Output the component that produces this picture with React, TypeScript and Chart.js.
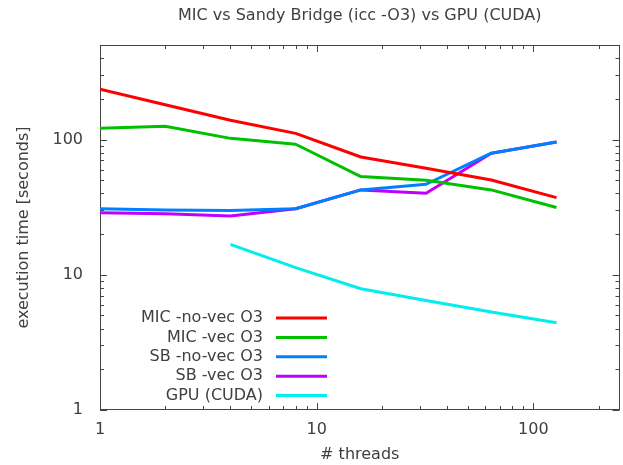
import React, { useEffect, useRef } from "react";
import { Chart, registerables } from "chart.js";

Chart.register(...registerables);

// ---- data ----
const threads = [1, 2, 4, 8, 16, 32, 64, 128];
const gpuThreads = [4, 8, 16, 32, 64, 128];
const micNoVec = [236, 181, 139, 111, 74.3, 61.3, 50.2, 37.2];
const micVec = [121, 125.5, 102, 92.3, 53.2, 50, 42.4, 31.4];
const sbNoVec = [30.8, 30.1, 29.9, 30.8, 42.4, 46.7, 79.2, 96];
const sbVec = [28.8, 28.2, 27.2, 30.8, 42.4, 40, 79.2, 96];
const gpuCuda = [16.8, 11.3, 7.88, 6.45, 5.3, 4.41];

const seriesLabels = [
  "MIC -no-vec O3",
  "MIC -vec O3",
  "SB -no-vec O3",
  "SB -vec O3",
  "GPU (CUDA)",
];
const seriesColors = ["#ff0000", "#00c000", "#0080ff", "#c000ff", "#00eeee"];

const majorTicks = [1, 10, 100];
const xRange = [1, 250];
const yRange = [1, 500];

const chartTitle = "MIC vs Sandy Bridge (icc -O3) vs GPU (CUDA)";
const xTitle = "# threads";
const yTitle = "execution time [seconds]";

const FONT = "DejaVu Sans";
const TEXT = "#404040";

function minorValues(min: number, max: number): number[] {
  const out: number[] = [];
  for (let d = 1; d <= max; d *= 10) {
    for (let m = 1; m <= 9; m++) {
      const v = m * d;
      if (v >= min && v <= max) out.push(v);
    }
  }
  return out;
}

const framePlugin = {
  id: "frameTicks",
  beforeDatasetsDraw(chart: any) {
    const { ctx, chartArea, scales } = chart;
    const { left, right, top, bottom } = chartArea;
    ctx.save();
    ctx.strokeStyle = "#444444";
    ctx.lineWidth = 1;
    ctx.beginPath();
    const sx = (v: number) => Math.round(scales.x.getPixelForValue(v)) + 0.5;
    const sy = (v: number) => Math.round(scales.y.getPixelForValue(v)) + 0.5;
    minorValues(xRange[0], xRange[1]).forEach((v) => {
      const len = majorTicks.includes(v) ? 7 : 4;
      const px = sx(v);
      ctx.moveTo(px, bottom);
      ctx.lineTo(px, bottom - len);
      ctx.moveTo(px, top);
      ctx.lineTo(px, top + len);
    });
    minorValues(yRange[0], yRange[1]).forEach((v) => {
      const len = majorTicks.includes(v) ? 7 : 4;
      const py = sy(v);
      ctx.moveTo(left, py);
      ctx.lineTo(left + len, py);
      ctx.moveTo(right, py);
      ctx.lineTo(right - len, py);
    });
    ctx.stroke();
    ctx.strokeRect(
      Math.round(left) + 0.5,
      Math.round(top) + 0.5,
      Math.round(right - left) - 1,
      Math.round(bottom - top) - 1
    );
    ctx.restore();
  },
  afterDraw(chart: any) {
    const { ctx, chartArea } = chart;
    ctx.save();
    ctx.fillStyle = TEXT;
    ctx.font = `16px "${FONT}"`;
    ctx.textAlign = "center";
    ctx.textBaseline = "middle";
    ctx.fillText(chartTitle, (chartArea.left + chartArea.right) / 2, 16);

    ctx.textAlign = "right";
    chart.data.datasets.forEach((ds: any, i: number) => {
      const y = chartArea.top + 273 + i * 19.4;
      ctx.fillStyle = TEXT;
      ctx.fillText(ds.label, chartArea.left + 163, y);
      ctx.strokeStyle = ds.borderColor;
      ctx.lineWidth = 3;
      ctx.beginPath();
      ctx.moveTo(chartArea.left + 176, y);
      ctx.lineTo(chartArea.left + 227, y);
      ctx.stroke();
    });
    ctx.restore();
  },
};

function toPoints(xs: number[], ys: number[]) {
  return xs.map((x, i) => ({ x, y: ys[i] }));
}

export default function App() {
  const ref = useRef<HTMLCanvasElement | null>(null);

  useEffect(() => {
    document.body.style.margin = "0";
    const canvas = ref.current;
    if (!canvas) return;
    const series = [
      toPoints(threads, micNoVec),
      toPoints(threads, micVec),
      toPoints(threads, sbNoVec),
      toPoints(threads, sbVec),
      toPoints(gpuThreads, gpuCuda),
    ];
    const chart = new Chart(canvas, {
      type: "line",
      data: {
        datasets: series.map((data, i) => ({
          label: seriesLabels[i],
          data,
          borderColor: seriesColors[i],
          backgroundColor: seriesColors[i],
          borderWidth: 3,
          pointRadius: 0,
          tension: 0,
          fill: false,
          borderJoinStyle: "round" as const,
          borderCapStyle: "butt" as const,
        })),
      },
      options: {
        responsive: false,
        animation: false,
        events: [],
        layout: { padding: { top: 45, right: 3.5, bottom: 0, left: 0 } },
        plugins: {
          legend: { display: false },
          tooltip: { enabled: false },
          title: { display: false },
        },
        scales: {
          x: {
            type: "logarithmic",
            min: xRange[0],
            max: xRange[1],
            grid: { display: false, drawTicks: false },
            border: { display: false },
            afterBuildTicks: (scale: any) => {
              scale.ticks = majorTicks.map((v) => ({ value: v }));
            },
            afterFit: (scale: any) => {
              scale.height = 55;
            },
            ticks: {
              autoSkip: false,
              maxRotation: 0,
              padding: 10,
              color: TEXT,
              font: { family: FONT, size: 16 },
              callback: (v: any) => String(v),
            },
            title: {
              display: true,
              text: xTitle,
              color: TEXT,
              font: { family: FONT, size: 16 },
              padding: { top: 0, bottom: 0.5 },
            },
          },
          y: {
            type: "logarithmic",
            min: yRange[0],
            max: yRange[1],
            grid: { display: false, drawTicks: false },
            border: { display: false },
            afterBuildTicks: (scale: any) => {
              scale.ticks = majorTicks.map((v) => ({ value: v }));
            },
            afterFit: (scale: any) => {
              scale.width = 100;
            },
            ticks: {
              autoSkip: false,
              padding: 17,
              color: TEXT,
              font: { family: FONT, size: 16 },
              callback: (v: any) => String(v),
            },
            title: {
              display: true,
              text: yTitle,
              color: TEXT,
              font: { family: FONT, size: 16 },
              padding: { top: 14, bottom: 0 },
            },
          },
        },
      },
      plugins: [framePlugin],
    });
    return () => chart.destroy();
  }, []);

  return (
    <canvas
      ref={ref}
      width={623}
      height={465}
      style={{ display: "block", width: 623, height: 465 }}
    />
  );
}
